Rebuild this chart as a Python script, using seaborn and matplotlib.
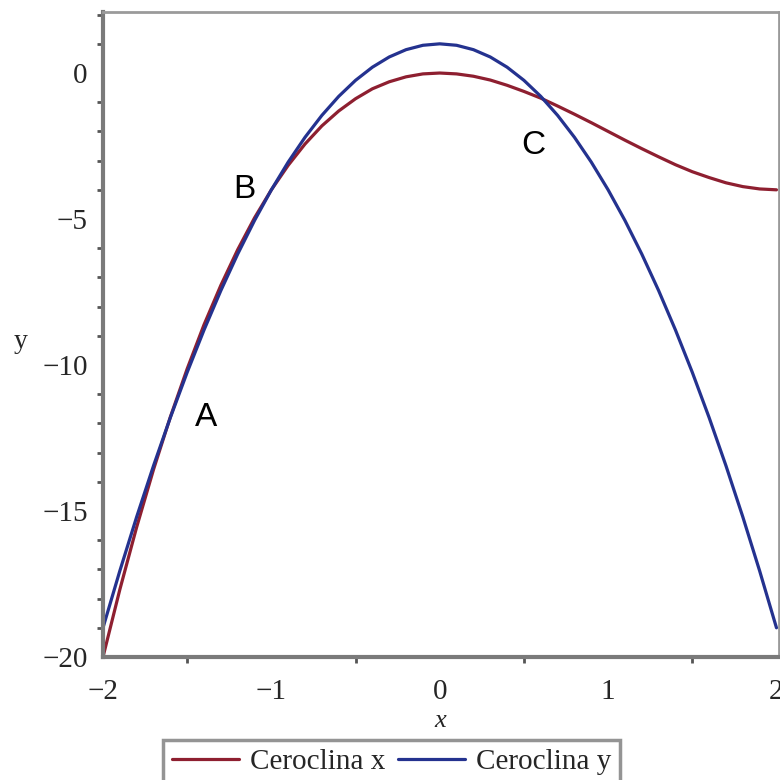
import numpy as np
import pandas as pd
import matplotlib
matplotlib.use("Agg")
import matplotlib.pyplot as plt
from matplotlib.ticker import MultipleLocator
import seaborn as sns

# Data
x_vals = [-2.0, -1.9, -1.8, -1.7, -1.6, -1.5, -1.4, -1.3, -1.2, -1.1, -1.0,
          -0.9, -0.8, -0.7, -0.6, -0.5, -0.4, -0.3, -0.2, -0.1, 0.0,
          0.1, 0.2, 0.3, 0.4, 0.5, 0.6, 0.7, 0.8, 0.9, 1.0,
          1.1, 1.2, 1.3, 1.4, 1.5, 1.6, 1.7, 1.8, 1.9, 2.0]
ceroclina_x = [-20.0, -17.69, -15.55, -13.58, -11.78, -10.13, -8.62, -7.27, -6.05, -4.96, -4.0,
               -3.16, -2.43, -1.81, -1.30, -0.88, -0.54, -0.30, -0.13, -0.03, 0.0,
               -0.03, -0.11, -0.24, -0.42, -0.63, -0.86, -1.13, -1.41, -1.70, -2.0,
               -2.30, -2.59, -2.87, -3.14, -3.38, -3.58, -3.76, -3.89, -3.97, -4.0]
ceroclina_y = [-19.0, -17.05, -15.2, -13.45, -11.8, -10.25, -8.8, -7.45, -6.2, -5.05, -4.0,
               -3.05, -2.2, -1.45, -0.8, -0.25, 0.2, 0.55, 0.8, 0.95, 1.0,
               0.95, 0.8, 0.55, 0.2, -0.25, -0.8, -1.45, -2.2, -3.05, -4.0,
               -5.05, -6.2, -7.45, -8.8, -10.25, -11.8, -13.45, -15.2, -17.05, -19.0]
series_names = ["Ceroclina x", "Ceroclina y"]
point_labels = ["A", "B", "C"]
point_x = [-1.385, -1.159, 0.553]
point_y = [-11.8, -4.0, -2.47]
x_ticks = [-2, -1, 0, 1, 2]
y_ticks = [-20, -15, -10, -5, 0]

sns.set_theme(style="white")
plt.rcParams['font.family'] = ['Liberation Serif', 'DejaVu Serif']

df = pd.DataFrame({
    "x": x_vals * 2,
    "y": ceroclina_x + ceroclina_y,
    "serie": [series_names[0]] * len(x_vals) + [series_names[1]] * len(x_vals),
})
colors = {series_names[0]: "#8E1F30", series_names[1]: "#24328F"}

fig = plt.figure(figsize=(7.8, 7.8), dpi=100)
ax = fig.add_axes([103/780, 1 - 657/780, (779 - 103)/780, (657 - 12)/780])

sns.lineplot(data=df, x="x", y="y", hue="serie", palette=colors, ax=ax,
             linewidth=2.3, legend=False, sort=True)

ax.set_xlim(-2, 2.015)
ax.set_ylim(-20, 2.09)
ax.set_xticks(x_ticks)
ax.set_yticks(y_ticks)
ax.xaxis.set_minor_locator(MultipleLocator(0.5))
ax.yaxis.set_minor_locator(MultipleLocator(1))
ax.tick_params(axis="both", which="major", direction="out", length=6, width=2,
               color="#555555", labelsize=21, pad=5)
ax.tick_params(axis="both", which="minor", direction="out", length=4, width=2,
               color="#555555", left=True, bottom=True)
ax.tick_params(axis="x", which="major", pad=10)
ax.set_xticklabels([str(v).replace("-", "\u2212") for v in x_ticks])
ax.set_yticklabels([str(v).replace("-", "\u2212") for v in y_ticks])

for side in ["left", "bottom"]:
    ax.spines[side].set_color("#7a7a7a")
    ax.spines[side].set_linewidth(3)
for side in ["top", "right"]:
    ax.spines[side].set_color("#9a9a9a")
    ax.spines[side].set_linewidth(2)

ax.set_xlabel("")
ax.set_ylabel("")
fig.text(440/780, 1 - 721/780, "x", style="italic", fontsize=19,
         ha="center", va="center")
fig.text(21/780, 1 - 342/780, "y", fontsize=20, ha="center", va="center")

for lab, px, py in zip(point_labels, point_x, point_y):
    ax.text(px, py, lab, fontsize=24, family=["Liberation Sans", "DejaVu Sans"],
            ha="center", va="center", color="black")

handles = [plt.Line2D([], [], color=colors[n], linewidth=2.3) for n in series_names]
leg = fig.legend(handles, series_names, loc="upper left", ncol=2,
                 bbox_to_anchor=(163/780, 1 - 740/780), fontsize=21,
                 frameon=True, fancybox=False, handlelength=2.3,
                 handletextpad=0.4, columnspacing=0.4, borderpad=0.3,
                 borderaxespad=0)
leg.get_frame().set_edgecolor("#7a7a7a")
leg.get_frame().set_linewidth(2.5)

fig.savefig("out.png", dpi=100)
